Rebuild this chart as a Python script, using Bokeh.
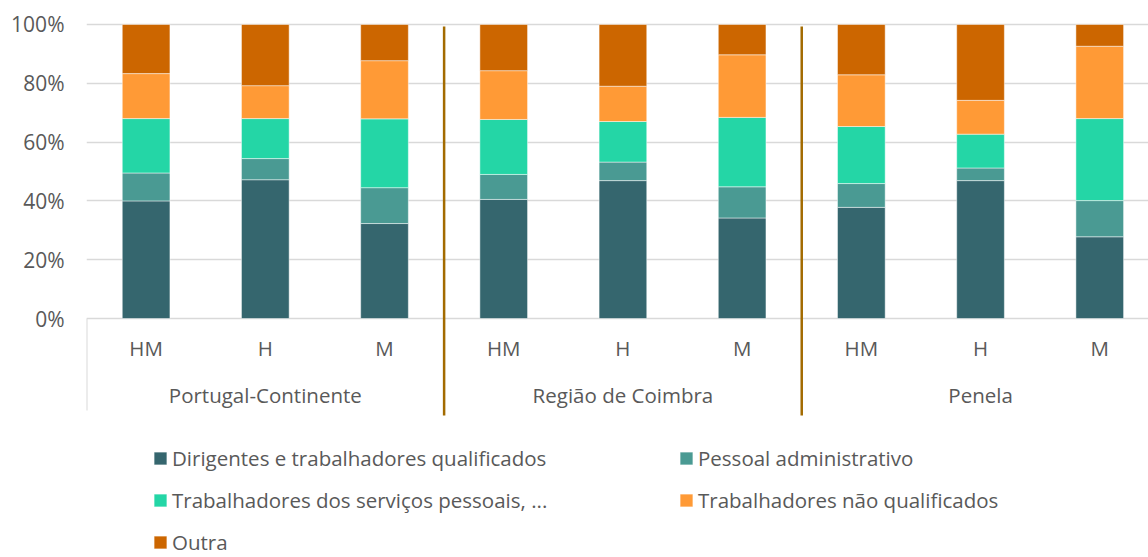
from bokeh.plotting import figure
from bokeh.models import ColumnDataSource, Range1d, FixedTicker, NumeralTickFormatter, Legend, LegendItem
from bokeh.core.properties import value
from bokeh.embed import file_html
from bokeh.resources import INLINE

# ---- data ----
groups = ["Portugal-Continente", "Região de Coimbra", "Penela"]
subs = ["HM", "H", "M"]
series = [
    "Dirigentes e trabalhadores qualificados",
    "Pessoal administrativo",
    "Trabalhadores dos serviços pessoais, ...",
    "Trabalhadores não qualificados",
    "Outra",
]
dirigentes = [40.0, 47.2, 32.3, 40.5, 46.9, 34.2, 37.8, 46.9, 27.8]
pessoal = [9.5, 7.2, 12.2, 8.5, 6.3, 10.6, 8.1, 4.3, 12.3]
servicos = [18.5, 13.6, 23.4, 18.7, 13.8, 23.6, 19.4, 11.5, 27.9]
nao_qual = [15.3, 11.2, 19.8, 16.6, 12.0, 21.3, 17.6, 11.5, 24.6]
outra = [16.7, 20.8, 12.3, 15.7, 21.0, 10.3, 17.1, 25.8, 7.4]
y_ticks = [0, 0.2, 0.4, 0.6, 0.8, 1.0]

colors = ["#35666E", "#4A9A93", "#24D6A6", "#FF9A36", "#CC6600"]
FONT = "Open Sans"
FS = "20.5px"
TXT = "#595959"

# ---- source ----
n = len(groups) * len(subs)
xs = [i + 0.5 for i in range(n)]
keys = ["s0", "s1", "s2", "s3", "s4"]
data = {"x": xs}
for k, arr in zip(keys, [dirigentes, pessoal, servicos, nao_qual, outra]):
    data[k] = [v / 100.0 for v in arr]
src = ColumnDataSource(data)

p = figure(width=1148, height=557, output_backend="svg", toolbar_location=None,
           x_range=Range1d(0, 8.909), y_range=Range1d(-0.8129, 1.0204),
           min_border_left=86, min_border_right=0, min_border_top=18, min_border_bottom=0,
           x_axis_location=None, outline_line_color=None)
p.title.visible = False

# grid & y axis
p.xgrid.visible = False
p.ygrid.ticker = FixedTicker(ticks=y_ticks)
p.ygrid.grid_line_color = "#D9D9D9"
p.ygrid.grid_line_width = 1.5
ax = p.yaxis[0]
ax.ticker = FixedTicker(ticks=y_ticks)
ax.formatter = NumeralTickFormatter(format="0%")
ax.axis_line_color = None
ax.major_tick_line_color = None
ax.minor_tick_line_color = None
ax.major_tick_out = 0
ax.major_label_standoff = 22
ax.major_label_text_font = FONT
ax.major_label_text_font_size = "21px"
ax.major_label_text_color = TXT

# bars
rs = p.vbar_stack(keys, x="x", width=0.4, source=src, fill_color=colors,
                  line_color="white", line_width=0.8, line_alpha=0.6)

# category labels
sub_src = ColumnDataSource({"x": xs, "y": [-0.102] * n, "t": subs * len(groups)})
p.text(x="x", y="y", text="t", source=sub_src, text_align="center", text_baseline="middle",
       text_font=value(FONT), text_font_size=FS, text_color=TXT)
grp_src = ColumnDataSource({"x": [len(subs) * g + len(subs) / 2 for g in range(len(groups))],
                            "y": [-0.26] * len(groups), "t": groups})
p.text(x="x", y="y", text="t", source=grp_src, text_align="center", text_baseline="middle",
       text_font=value(FONT), text_font_size=FS, text_color=TXT)

# group separators and left border
sep_x = [len(subs) * g for g in range(1, len(groups))]
p.segment(x0=sep_x, y0=[0.993] * len(sep_x), x1=sep_x, y1=[-0.33] * len(sep_x),
          line_color="#A36B00", line_width=2.5)
p.segment(x0=[0], y0=[0], x1=[0], y1=[-0.313], line_color="#D9D9D9", line_width=2)

# legend
items = [LegendItem(label=s, renderers=[r]) for s, r in zip(series, rs)]
legend = Legend(items=items, location=(66, 1), orientation="horizontal", ncols=2,
                glyph_width=16, glyph_height=16, label_standoff=4,
                label_text_font=FONT, label_text_font_size=FS, label_text_color=TXT,
                border_line_color=None, background_fill_alpha=0, padding=0, margin=0,
                spacing=14, label_width=492)
p.add_layout(legend)

open("out.html", "w").write(file_html(p, INLINE))
